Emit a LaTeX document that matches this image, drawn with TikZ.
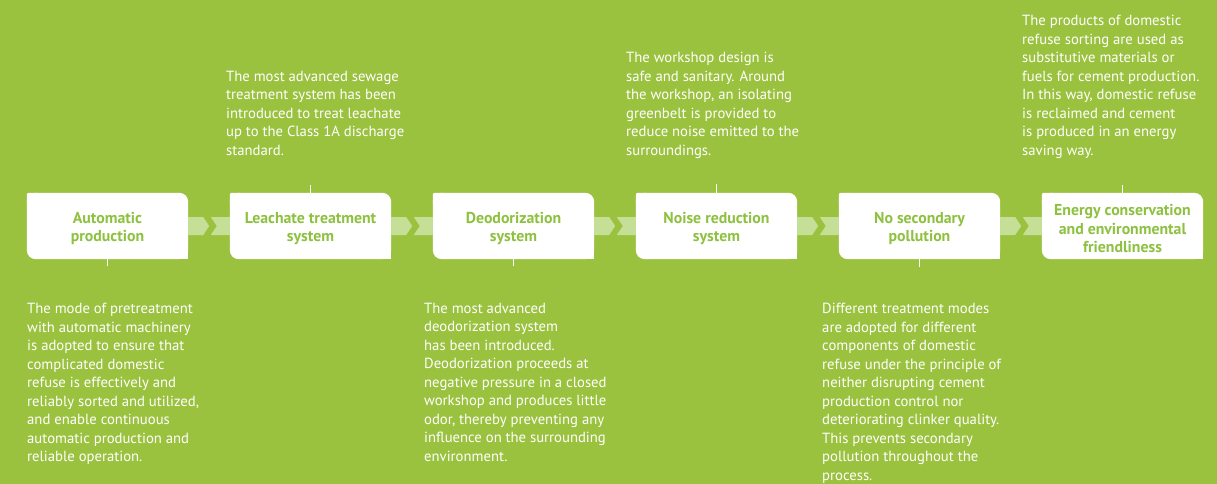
\documentclass[tikz,border=0pt]{standalone}
\usepackage{fontspec}
\setmainfont{PT Sans}
\usetikzlibrary{calc}
\definecolor{bggreen}{HTML}{9AC23F}
\definecolor{labgreen}{HTML}{8DC13F}
\definecolor{bandgreen}{HTML}{C6DF97}
\pgfdeclarelayer{backlayer}
\pgfdeclarelayer{midlayer}
\pgfsetlayers{backlayer,midlayer,main}
\tikzset{
 stage/.style={minimum width=161pt, minimum height=66pt, inner sep=0pt},
 lbl/.style={inner sep=0pt, text=labgreen,
   font=\bfseries\fontsize{15.8}{18.8}\selectfont, align=center},
 desc/.style={text=white, font=\fontsize{14.7}{18.5}\selectfont, align=left, inner sep=0pt, anchor=north west},
 tickline/.style={draw=white, line width=1pt},
 chev/.style={fill=bandgreen},
}
\begin{document}
\begin{tikzpicture}[x=1pt,y=-1pt]
\begin{pgfonlayer}{backlayer}
\fill[bggreen] (0,0) rectangle (1217,484);
\end{pgfonlayer}
\useasboundingbox (0,0) rectangle (1217,484);

\node[stage] (b1) at (107.5,226) {};
\node[stage] (b2) at (310.5,226) {};
\node[stage] (b3) at (513.5,226) {};
\node[stage] (b4) at (716.5,226) {};
\node[stage] (b5) at (919.5,226) {};
\node[stage] (b6) at (1122.5,226) {};

\node[lbl] (l1) at ($(b1)+(0,2.5)$) {Automatic\\production};
\node[lbl] (l2) at ($(b2)+(0,2.5)$) {Leachate treatment\\system};
\node[lbl] (l3) at ($(b3)+(0,2.5)$) {Deodorization\\system};
\node[lbl] (l4) at ($(b4)+(0,2.5)$) {Noise reduction\\system};
\node[lbl] (l5) at ($(b5)+(0,2.5)$) {No secondary\\pollution};
\node[lbl] (l6) at ($(b6)+(0,2.5)$) {Energy conservation\\and environmental\\friendliness};

\begin{pgfonlayer}{midlayer}
\foreach \b in {b1,b2,b3,b4,b5,b6}{
  \fill[white, rounded corners=9pt] (\b.north west) rectangle (\b.south east);
  \fill[white, rounded corners=2pt] (\b.north west) rectangle ++(12,12);
  \fill[white] (\b.south east) rectangle ++(-12,-12);
}
\foreach \a/\c in {b1/b2,b2/b3,b3/b4,b4/b5,b5/b6}{
  \fill[chev] ($(\a.east)+(0,-9)$) -- ++(15,0) -- ++(6,9) -- ++(-6,9) -- ++(-15,0) -- cycle;
  \fill[chev] ($(\c.west)+(-19,-9)$) -- ++(19,0) -- ++(0,18) -- ++(-19,0) -- ++(6,-9) -- cycle;
}
\end{pgfonlayer}

\coordinate (e1) at ($(b1.south)+(0,7)$);
\coordinate (e2) at ($(b2.north)+(0,-8)$);
\coordinate (e3) at ($(b3.south)+(0,7)$);
\coordinate (e4) at ($(b4.north)+(0,-9)$);
\coordinate (e5) at ($(b5.south)+(0,8)$);
\coordinate (e6) at ($(b6.north)+(0,-8)$);
\foreach \b/\e in {b1/e1,b3/e3,b5/e5}{\draw[tickline] (\b.south) -- (\e);}
\foreach \b/\e in {b2/e2,b4/e4,b6/e6}{\draw[tickline] (\b.north) -- (\e);}

\node[desc] (t1) at (27,303) {The mode of pretreatment\\with automatic machinery\\is adopted to ensure that\\complicated domestic\\refuse is effectively and\\reliably sorted and utilized,\\and enable continuous\\automatic production and\\reliable operation.};
\node[desc] (t2) at (226,71) {The most advanced sewage\\treatment system has been\\introduced to treat leachate\\up to the Class 1A discharge\\standard.};
\node[desc] (t3) at (424,303) {The most advanced\\deodorization system\\has been introduced.\\Deodorization proceeds at\\negative pressure in a closed\\workshop and produces little\\odor, thereby preventing any\\influence on the surrounding\\environment.};
\node[desc] (t4) at (626,52) {The workshop design is\\safe and sanitary. Around\\the workshop, an isolating\\greenbelt is provided to\\reduce noise emitted to the\\surroundings.};
\node[desc] (t5) at (822,303) {Different treatment modes\\are adopted for different\\components of domestic\\refuse under the principle of\\neither disrupting cement\\production control nor\\deteriorating clinker quality.\\This prevents secondary\\pollution throughout the\\process.};
\node[desc] (t6) at (1022,15) {The products of domestic\\refuse sorting are used as\\substitutive materials or\\fuels for cement production.\\In this way, domestic refuse\\is reclaimed and cement\\is produced in an energy\\saving way.};
\end{tikzpicture}
\end{document}
